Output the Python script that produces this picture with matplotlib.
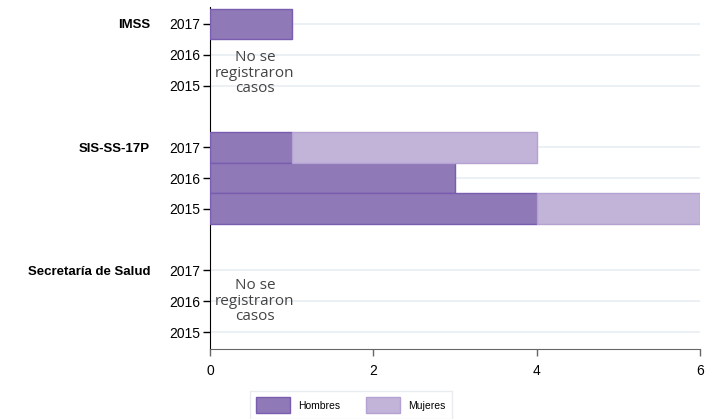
import numpy as np
import matplotlib
matplotlib.use("Agg")
import matplotlib.pyplot as plt
from matplotlib.transforms import blended_transform_factory

# datos
grupos = ["IMSS", "SIS-SS-17P", "Secretaría de Salud"]
anios = ["2017", "2016", "2015"]
hombres = [[1, 0, 0], [1, 3, 4], [0, 0, 0]]
mujeres = [[0, 0, 0], [3, 0, 2], [0, 0, 0]]
sin_casos = [True, False, True]
xticks = [0, 2, 4, 6]

c_h, e_h = "#8f79b6", "#7a5cb0"
c_m, e_m = "#c2b3d9", "#b3a2d2"

plt.rcParams["font.family"] = ["Liberation Sans", "DejaVu Sans"]
fig = plt.figure(figsize=(7.12, 4.19), dpi=100)
ax = fig.add_axes([210 / 712, 1 - 349 / 419, 490 / 712, 342 / 419])

pos, labs = [], []
for g, grupo in enumerate(grupos):
    y = np.arange(3) + 4 * g
    pos += list(y)
    labs += anios
    h = np.array(hombres[g])
    m = np.array(mujeres[g])
    kh, km = h > 0, m > 0
    ax.barh(y[kh], h[kh], height=1.0, color=c_h, edgecolor=e_h, linewidth=1, zorder=3)
    ax.barh(y[km], m[km], left=h[km], height=1.0, color=c_m, edgecolor=e_m, linewidth=1, zorder=3)
    ax.text(150 / 712, y[0], grupo, transform=blended_transform_factory(fig.transFigure, ax.transData),
            ha="right", va="center_baseline", fontsize=9.5, fontweight="bold")
    if sin_casos[g]:
        yc = y[1] + (0.6 if g == 0 else 0)
        ax.text(0.55, yc, "No se\nregistraron\ncasos", ha="center", va="center",
                fontsize=11, family="Open Sans", color="#444444", linespacing=1.05, zorder=4)

ax.set_yticks(pos)
ax.set_yticklabels(labs, fontsize=10)
ax.set_xticks(xticks)
ax.set_xticklabels([str(t) for t in xticks], fontsize=10)
ax.set_xlim(0, 6)
ax.set_ylim(10.55, -0.55)
ax.grid(axis="y", color="#e8eef2", linewidth=1.2, zorder=0)
for s in ["top", "right"]:
    ax.spines[s].set_visible(False)
ax.spines["left"].set_color("#000000")
ax.spines["bottom"].set_color("#666666")
ax.tick_params(axis="y", length=5, width=1, pad=2)
ax.tick_params(axis="x", length=5, width=1, color="#666666", pad=6)

handles = [plt.Rectangle((0, 0), 1, 1, facecolor=c_h, edgecolor=e_h),
           plt.Rectangle((0, 0), 1, 1, facecolor=c_m, edgecolor=e_m)]
leg = fig.legend(handles, ["Hombres", "Mujeres"], loc="upper left",
                 bbox_to_anchor=(245 / 712, 1 - 386 / 419), ncol=2, fontsize=7.5,
                 frameon=True, fancybox=False, edgecolor="#e4e8ea",
                 handlelength=3.2, handleheight=1.9, columnspacing=2.5, borderpad=0.6)

fig.savefig("out.png", dpi=100)
